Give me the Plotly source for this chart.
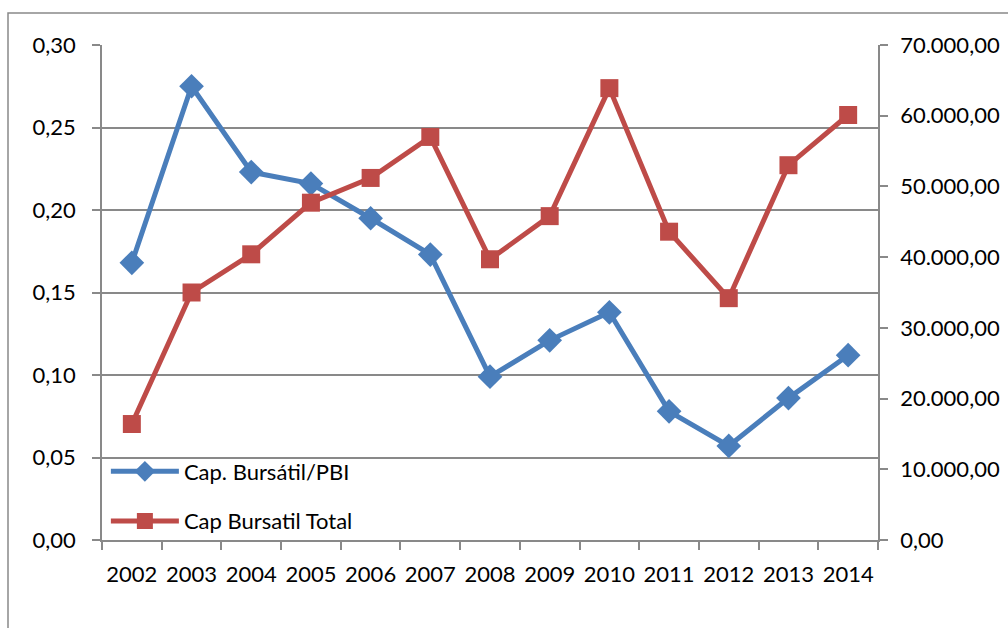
import plotly.graph_objects as go

years = ["2002", "2003", "2004", "2005", "2006", "2007", "2008",
         "2009", "2010", "2011", "2012", "2013", "2014"]
cap_pbi = [0.168, 0.275, 0.223, 0.216, 0.195, 0.173, 0.099,
           0.121, 0.138, 0.078, 0.057, 0.086, 0.112]
cap_total = [16400, 35000, 40400, 47700, 51200, 57000, 39700,
             45800, 63900, 43600, 34200, 53000, 60100]

left_ticks = [0, 0.05, 0.10, 0.15, 0.20, 0.25, 0.30]
left_labels = ["0,00", "0,05", "0,10", "0,15", "0,20", "0,25", "0,30"]
right_ticks = [0, 10000, 20000, 30000, 40000, 50000, 60000, 70000]
right_labels = ["0,00", "10.000,00", "20.000,00", "30.000,00", "40.000,00",
                "50.000,00", "60.000,00", "70.000,00"]

W, H = 1008, 628
L, R, T, B = 102, 130, 45, 88
pw, ph = W - L - R, H - T - B

blue = "#4A7EBB"
red = "#BE4B48"
gray = "#898989"
font = dict(family="Lato, 'Open Sans', sans-serif", size=22, color="#000000")

fig = go.Figure()
fig.add_trace(go.Scatter(
    x=years, y=cap_pbi, name="Cap. Bursátil/PBI", mode="lines+markers",
    line=dict(color=blue, width=5),
    marker=dict(symbol="diamond", size=19, color=blue),
    legendgroup="a", yaxis="y",
))
fig.add_trace(go.Scatter(
    x=years, y=cap_total, name="Cap Bursatil Total", mode="lines+markers",
    line=dict(color=red, width=5),
    marker=dict(symbol="square", size=18, color=red),
    legendgroup="b", yaxis="y2",
))

# outer chart border (extends past the page edge on the right and bottom)
fig.add_shape(type="rect", xref="paper", yref="paper",
              x0=(8 - L) / pw, x1=1.4, y0=-0.4, y1=(H - B - 13) / ph,
              line=dict(color=gray, width=1.5), layer="below")

axis_common = dict(showline=True, linecolor=gray, linewidth=1.5,
                   ticks="outside", ticklen=8, tickcolor=gray, tickwidth=1.5,
                   tickfont=font, zeroline=False)

fig.update_layout(
    width=W, height=H,
    margin=dict(l=L, r=R, t=T, b=B, autoexpand=False),
    paper_bgcolor="white", plot_bgcolor="white",
    font=font,
    showlegend=True,
    legend=dict(x=0.005, y=-0.005, xanchor="left", yanchor="bottom",
                bgcolor="rgba(0,0,0,0)", traceorder="grouped",
                tracegroupgap=18, font=font, itemwidth=68),
    xaxis=dict(type="category", range=[-0.5, 12.5], tickson="boundaries",
               tickangle=0, showgrid=False, ticklabelstandoff=14,
               **axis_common),
    yaxis=dict(range=[0, 0.30], tickvals=left_ticks, ticktext=left_labels,
               showgrid=True, gridcolor=gray, gridwidth=1.5,
               ticklabelstandoff=12, **axis_common),
    yaxis2=dict(range=[0, 70000], tickvals=right_ticks, ticktext=right_labels,
                overlaying="y", side="right", showgrid=False,
                ticklabelstandoff=8, **axis_common),
)

fig.write_html("out.html")
